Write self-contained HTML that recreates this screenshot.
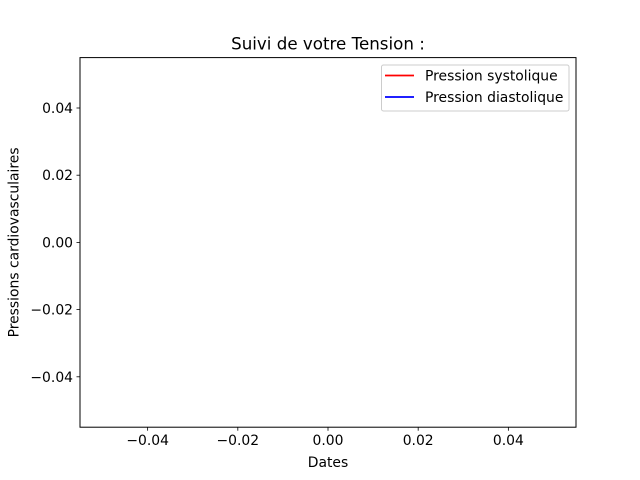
<!DOCTYPE html>
<html><head><meta charset="utf-8"><style>
html,body{margin:0;padding:0;background:#fff;}
svg{display:block;font-family:"DejaVu Sans","Liberation Sans",sans-serif;}
</style></head><body>
<svg id="chart" width="640" height="480" viewBox="0 0 640 480">
<rect x="0" y="0" width="640" height="480" fill="#fff"/>
<text x="328" y="49.5" font-size="16.7" text-anchor="middle">Suivi de votre Tension :</text>
<g id="xticks"></g>
<g id="yticks"></g>
<g id="series"></g>
<rect x="80" y="57.6" width="496" height="369.6" fill="none" stroke="#000" stroke-width="1"/>
<text x="328" y="467" font-size="13.9" text-anchor="middle">Dates</text>
<text transform="translate(18.5,242.4) rotate(-90)" font-size="13.9" text-anchor="middle">Pressions cardiovasculaires</text>
<g>
<rect x="381.5" y="65" width="187.5" height="46" rx="2" fill="#fff" fill-opacity="0.8" stroke="#ccc" stroke-width="1"/>
<line x1="385" y1="75.5" x2="414" y2="75.5" stroke="#ff0000" stroke-width="1.8"/>
<text x="425" y="80.5" font-size="13.9">Pression systolique</text>
<line x1="385" y1="97" x2="414" y2="97" stroke="#0000ff" stroke-width="1.8"/>
<text x="425" y="102" font-size="13.9">Pression diastolique</text>
</g>
</svg>
<script>
const xTickValues = [-0.04, -0.02, 0.00, 0.02, 0.04];
const xTickLabels = ["\u22120.04", "\u22120.02", "0.00", "0.02", "0.04"];
const yTickValues = [0.04, 0.02, 0.00, -0.02, -0.04];
const yTickLabels = ["0.04", "0.02", "0.00", "\u22120.02", "\u22120.04"];
const dates = [];
const systolic = [];
const diastolic = [];

const NS = "http://www.w3.org/2000/svg";
const L = 80, R = 576, T = 57.6, B = 427.2;
const xMin = -0.055, xMax = 0.055, yMin = -0.055, yMax = 0.055;
function xs(v){ return L + (v - xMin) / (xMax - xMin) * (R - L); }
function ys(v){ return B - (v - yMin) / (yMax - yMin) * (B - T); }
function mk(tag, attrs){ const e = document.createElementNS(NS, tag); for (const k in attrs) e.setAttribute(k, attrs[k]); return e; }

const gx = document.getElementById('xticks');
xTickValues.forEach((v, i) => {
  const x = xs(v);
  const t = mk('line', {x1: x, y1: B, x2: x, y2: B + 3.5, stroke: '#000', 'stroke-width': 0.8});
  
  
  gx.appendChild(t);
  const lb = mk('text', {x: x, y: B + 18, 'font-size': 13.9, 'text-anchor': 'middle'});
  lb.textContent = xTickLabels[i];
  
  
  gx.appendChild(lb);
});
const gy = document.getElementById('yticks');
yTickValues.forEach((v, i) => {
  const y = ys(v);
  const t = mk('line', {x1: L - 3.5, y1: y, x2: L, y2: y, stroke: '#000', 'stroke-width': 0.8});
  
  
  gy.appendChild(t);
  const lb = mk('text', {x: L - 7, y: y + 5, 'font-size': 13.9, 'text-anchor': 'end'});
  lb.textContent = yTickLabels[i];
  
  
  gy.appendChild(lb);
});
const gs = document.getElementById('series');
function drawLine(vals, color, name){
  if (!vals.length) return;
  const pts = vals.map((v, i) => xs(dates[i]) + ',' + ys(v)).join(' ');
  const p = mk('polyline', {points: pts, fill: 'none', stroke: color, 'stroke-width': 1.5});
  
  
  gs.appendChild(p);
}
drawLine(systolic, '#ff0000', 'systolique-line');
drawLine(diastolic, '#0000ff', 'diastolique-line');
</script>
</body></html>
